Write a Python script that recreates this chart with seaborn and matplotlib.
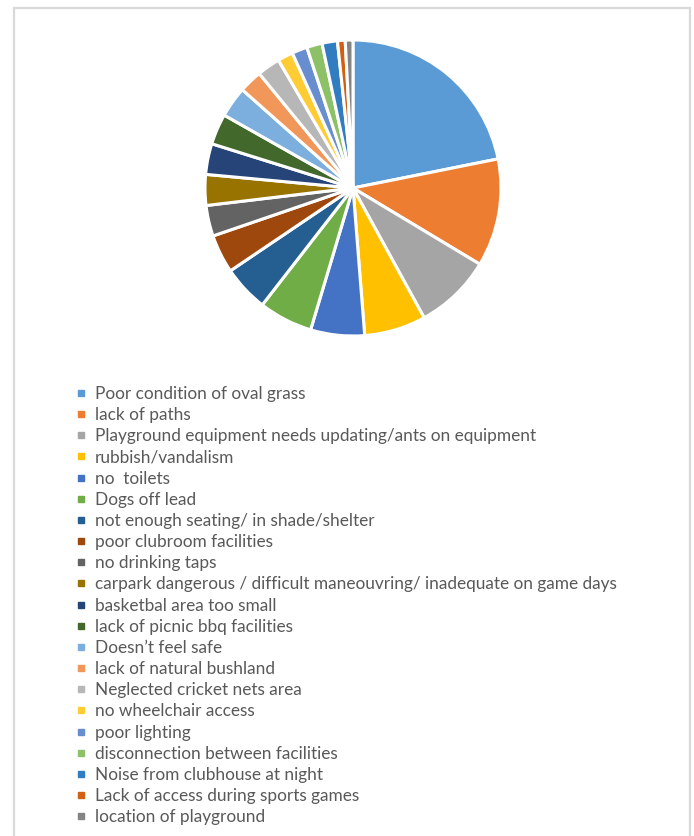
import matplotlib
matplotlib.use("Agg")
import matplotlib.pyplot as plt
import seaborn as sns
from matplotlib.lines import Line2D
from matplotlib.patches import Rectangle

categories = [
    "Poor condition of oval grass",
    "lack of paths",
    "Playground equipment needs updating/ants on equipment",
    "rubbish/vandalism",
    "no  toilets",
    "Dogs off lead",
    "not enough seating/ in shade/shelter",
    "poor clubroom facilities",
    "no drinking taps",
    "carpark dangerous / difficult maneouvring/ inadequate on game days",
    "basketbal area too small",
    "lack of picnic bbq facilities",
    "Doesn\u2019t feel safe",
    "lack of natural bushland",
    "Neglected cricket nets area",
    "no wheelchair access",
    "poor lighting",
    "disconnection between facilities",
    "Noise from clubhouse at night",
    "Lack of access during sports games",
    "location of playground",
]
counts = [26, 14, 10, 8, 7, 7, 6, 5, 4, 4, 4, 4, 4, 3, 3, 2, 2, 2, 2, 1, 1]

colors = sns.color_palette([
    "#5B9BD5", "#ED7D31", "#A5A5A5", "#FFC000", "#4472C4", "#70AD47",
    "#255E91", "#9E480E", "#636363", "#997300", "#264478", "#43682B",
    "#7CAFDD", "#F1975A", "#B7B7B7", "#FFCD33", "#698ED0", "#8CC168",
    "#327DC2", "#D26012", "#848484",
])

sns.set_theme(style="white")
plt.rcParams["font.family"] = ["Lato", "DejaVu Sans"]

W, H = 694, 836
fig = plt.figure(figsize=(W / 100, H / 100), dpi=100)
fig.patch.set_facecolor("white")

# outer border
fig.add_artist(Rectangle((14 / W, -0.01), (690 - 14) / W, (H - 8) / H + 0.01,
                         transform=fig.transFigure, fill=False,
                         edgecolor="#D9D9D9", linewidth=1.6))

cx, cy, r = 353, 188, 148
ax = fig.add_axes([(cx - r) / W, (H - cy - r) / H, 2 * r / W, 2 * r / H])
ax.pie(counts, colors=colors, startangle=90, counterclock=False,
       wedgeprops=dict(edgecolor="white", linewidth=2.2))
ax.set_xlim(-1, 1)
ax.set_ylim(-1, 1)
ax.set_aspect("equal")
ax.axis("off")

handles = [Line2D([], [], marker="s", linestyle="none", markersize=5,
                  markerfacecolor=c, markeredgecolor=c) for c in colors]
leg = fig.legend(handles, categories, loc="upper left",
                 bbox_to_anchor=(75 / W, 1 - 386 / H), frameon=False,
                 fontsize=12.4, labelspacing=0.30, handlelength=0.7,
                 handletextpad=0.45, borderpad=0, borderaxespad=0)
for t in leg.get_texts():
    t.set_color("#595959")

fig.savefig("out.png", dpi=100)
